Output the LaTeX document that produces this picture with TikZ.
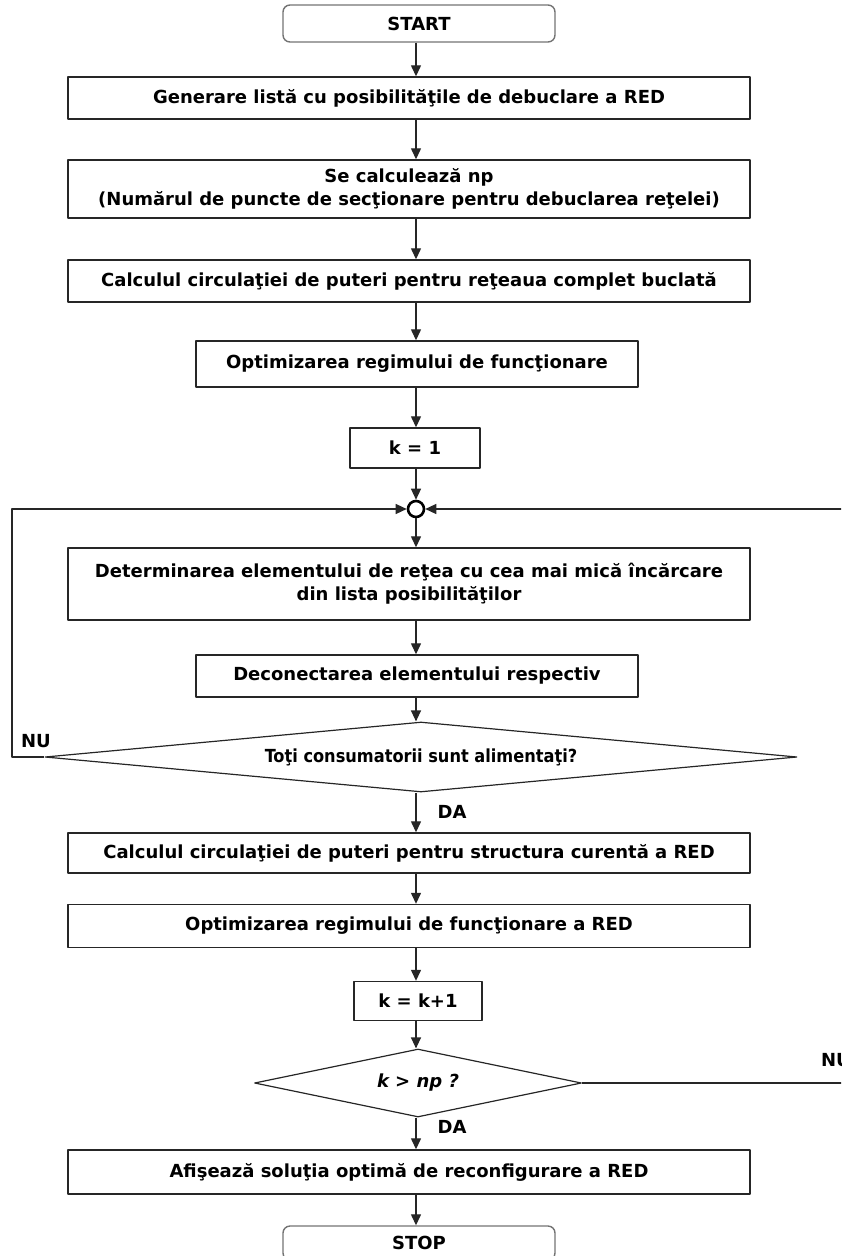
\documentclass[tikz,border=0pt]{standalone}
\usepackage{fontspec}
\setmainfont{DejaVu Sans}
\newfontfamily\condfont{DejaVu Sans Condensed}
\usetikzlibrary{shapes.geometric,arrows.meta}
\tikzset{
 proc/.style={draw=black!85,line width=1.4pt,align=center,inner sep=0pt},
 term/.style={proc,draw=black!55,rounded corners=7pt},
 cond/.style={draw=black!85,line width=1.2pt,diamond,aspect=6,inner sep=0pt},
 flow/.style={->,line width=1.3pt,draw=black!85},
 lbl/.style={inner sep=0pt}
}
\begin{document}
\begin{tikzpicture}[x=1pt,y=-1pt,font=\fontsize{18}{23}\selectfont\bfseries,line join=round,>={Triangle[length=11pt,width=10pt]}]
 \useasboundingbox (0,0) rectangle (841,1256);
 \clip (0,0) rectangle (841,1256);
 % blocks
 \node[term,minimum width=272pt,minimum height=37pt] (start) at (419,23.5) {START};
 \node[proc,minimum width=682pt,minimum height=42pt] (gen) at (409,98) {Generare listă cu posibilităţile de debuclare a RED};
 \node[proc,minimum width=682pt,minimum height=58pt] (np) at (409,189) {Se calculează np\\(Numărul de puncte de secţionare pentru debuclarea reţelei)};
 \node[proc,minimum width=682pt,minimum height=42pt] (calc) at (409,281) {Calculul circulaţiei de puteri pentru reţeaua complet buclată};
 \node[proc,minimum width=442pt,minimum height=46pt] (opt) at (417,364) {Optimizarea regimului de funcţionare};
 \node[proc,minimum width=130pt,minimum height=40pt] (kone) at (415,448) {k = 1};
 \node[circle,draw=black,line width=2.6pt,minimum size=16pt,inner sep=0pt] (jn) at (416,509) {};
 \node[proc,minimum width=682pt,minimum height=72pt] (elem) at (409,584) {Determinarea elementului de reţea cu cea mai mică încărcare\\din lista posibilităţilor};
 \node[proc,minimum width=442pt,minimum height=42pt] (off) at (417,676) {Deconectarea elementului respectiv};
 \node[cond,minimum width=752pt,minimum height=70pt] (fed) at (421,757) {\condfont Toţi consumatorii sunt alimentaţi?};
 \node[proc,minimum width=682pt,minimum height=40pt] (curr) at (409,853) {Calculul circulaţiei de puteri pentru structura curentă a RED};
 \node[proc,minimum width=682pt,minimum height=43pt] (optred) at (409,926) {Optimizarea regimului de funcţionare a RED};
 \node[proc,minimum width=128pt,minimum height=39pt] (kinc) at (418,1001) {k = k+1};
 \node[cond,minimum width=327pt,minimum height=68pt] (knp) at (418,1083) {\itshape k > np ?};
 \node[proc,minimum width=682pt,minimum height=44pt] (show) at (409,1172) {Afişează soluţia optimă de reconfigurare a RED};
 \node[term,minimum width=272pt,minimum height=34pt] (stop) at (419,1243) {STOP};
 % labels
 \node[lbl] (nul) at (36,741) {NU};
 \node[lbl] (dal) at (452,812) {DA};
 \node[lbl] (dar) at (452,1127) {DA};
 \node[lbl] (nur) at (836,1060) {NU};
 % main line
 \draw[flow] (start.south -| jn) -- (gen.north -| jn);
 \draw[flow] (gen.south -| jn) -- (np.north -| jn);
 \draw[flow] (np.south -| jn) -- (calc.north -| jn);
 \draw[flow] (calc.south -| jn) -- (opt.north -| jn);
 \draw[flow] (opt.south -| jn) -- (kone.north -| jn);
 \draw[flow] (kone.south -| jn) -- (jn);
 \draw[flow] (jn) -- (elem.north -| jn);
 \draw[flow] (elem.south -| jn) -- (off.north -| jn);
 \draw[flow] (off.south -| jn) -- (fed.north -| jn);
 \draw[flow] (fed.south -| jn) -- (curr.north -| jn);
 \draw[flow] (curr.south -| jn) -- (optred.north -| jn);
 \draw[flow] (optred.south -| jn) -- (kinc.north -| jn);
 \draw[flow] (kinc.south -| jn) -- (knp.north -| jn);
 \draw[flow] (knp.south -| jn) -- (show.north -| jn);
 \draw[flow] (show.south -| jn) -- (stop.north -| jn);
 % loops back to the junction
 \coordinate (lft) at (12,757);
 \coordinate (rgt) at (870,1083);
 \draw[flow] (fed.west) -- (lft) |- (jn);
 \draw[flow] (knp.east) -- (rgt) |- (jn);
\end{tikzpicture}
\end{document}
